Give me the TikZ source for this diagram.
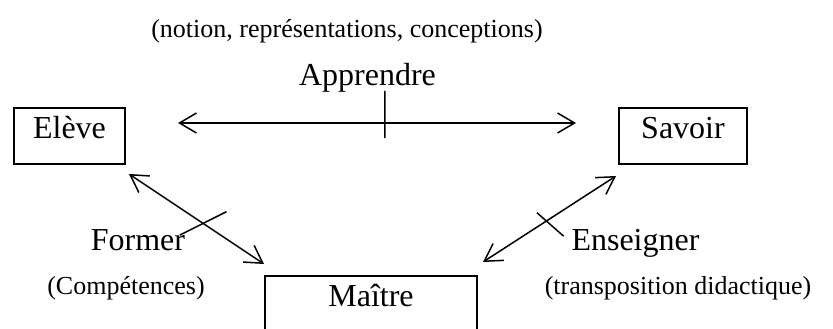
\documentclass[tikz,border=0pt]{standalone}
\usepackage{fontspec}
\setmainfont{Liberation Serif}
\usetikzlibrary{arrows.meta}
\tikzset{
  box/.style={rectangle,draw,line width=2pt,inner sep=0pt,text height=30pt,text depth=26pt,font=\fontsize{32}{38}\selectfont},
  lbl/.style={anchor=base,inner sep=0pt,font=\fontsize{32}{38}\selectfont},
  note/.style={anchor=base,inner sep=0pt,font=\fontsize{26}{31}\selectfont},
  rel/.style={line width=1.5pt,{Straight Barb[length=17pt,width=20pt]}-{Straight Barb[length=17pt,width=20pt]}},
  tick/.style={line width=1.5pt}
}
\begin{document}
\begin{tikzpicture}[x=1pt,y=-1pt]
        \clip (0,0) rectangle (833,329);
        \node[box,minimum width=111pt] (E) at (69.5,136) {Elève};
        \node[box,minimum width=128pt] (S) at (683,136) {Savoir};
        \node[box,minimum width=212pt] (M) at (371,304) {Maître};
        \draw[rel,shorten <=52pt,shorten >=42pt] ([yshift=13pt]E.east) -- coordinate[pos=0.526] (a) ([yshift=13pt]S.west);
        \draw[rel] ([xshift=3pt,yshift=-9pt]E.south east) -- coordinate[pos=0.549] (f) ([yshift=11pt]M.north west);
        \draw[rel] ([xshift=5pt,yshift=13pt]M.north east) -- coordinate[pos=0.476] (t) ([xshift=-2pt,yshift=-11pt]S.south west);
        \draw[tick] (a) ++(0,-32) -- ++(0,47) (f) ++(-23.3,11.7) -- ++(46.6,-23.4) (t) ++(-9.3,-8.3) -- ++(26.6,23.4);
        \node[note] (notion) at (347,38) {(notion, représentations, conceptions)};
        \node[lbl] (app) at (367.5,85) {Apprendre};
        \node[lbl] (form) at (138,250) {Former};
        \node[note] (comp) at (126,294) {(Compétences)};
        \node[lbl] (ens) at (635.5,250) {Enseigner};
        \node[note] (trans) at (678,294) {(transposition didactique)};
        \end{tikzpicture}
\end{document}
